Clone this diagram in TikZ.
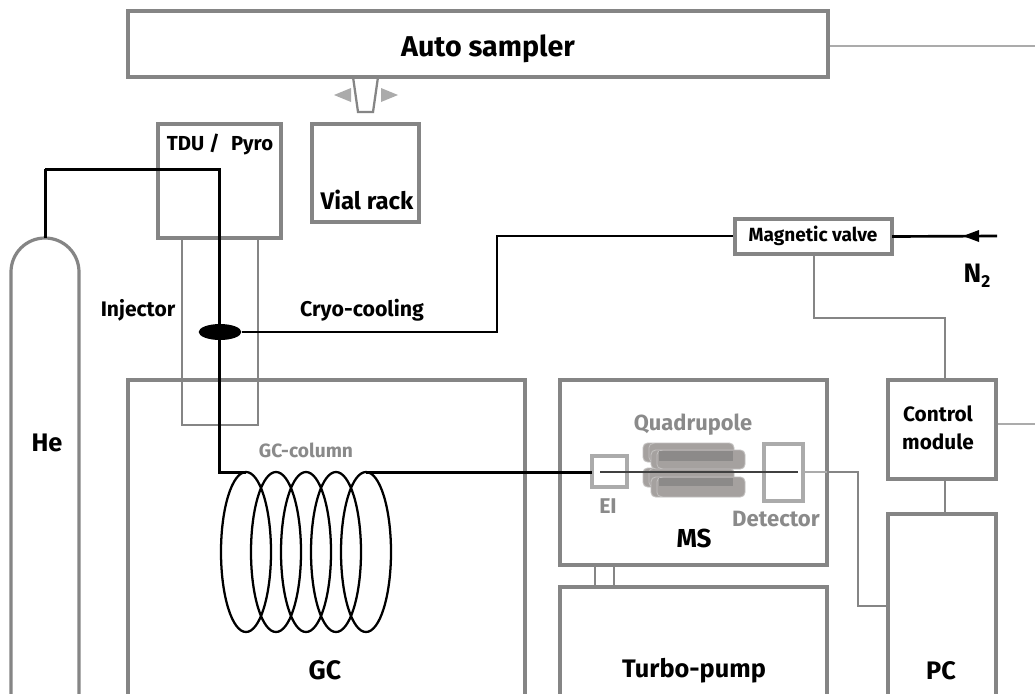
\documentclass[tikz,border=0pt]{standalone}
\usepackage{fontspec}
\setmainfont{Fira Sans}
\usetikzlibrary{arrows.meta,calc,shapes.geometric}
\definecolor{boxgray}{HTML}{858585}
\definecolor{lightline}{HTML}{ABABAB}
\definecolor{lab}{HTML}{8A8A8A}
\definecolor{rod}{HTML}{A5A19F}
\definecolor{rodin}{HTML}{8C8A89}
\definecolor{rodedge}{HTML}{C2C0BF}
\newcommand{\fsz}[1]{\bfseries\fontsize{#1}{#1}\selectfont}
\tikzset{
 x=0.75pt,y=-0.75pt,
 boxs/.style={draw=boxgray,line width=2.4pt,fill=white},
 txt/.style={text=black,inner sep=0pt},
 graylab/.style={text=lab,inner sep=0pt},
 wire/.style={draw=black,line width=2.25pt},
 thinwire/.style={draw=black,line width=2pt},
 gwire/.style={draw=boxgray,line width=1.7pt},
 lwire/.style={draw=lightline,line width=1.7pt},
 coil/.style={draw=black,line width=1.7pt},
}
\newcommand{\rect}[5]{\node[boxs,minimum width=#4*0.75pt,minimum height=#5*0.75pt,inner sep=0pt,anchor=north west,outer sep=0pt] (#1) at (#2,#3) {};}
% x y w h : one quadrupole rod
\newcommand{\rodshape}[4]{%
 \draw[draw=rodedge,line width=.7pt,fill=rod,rounded corners=3.5pt] (#1,#2) rectangle ++(#3,#4);
 \draw[draw=rodedge,line width=.6pt,rounded corners=3pt] (#1+9,#2+.5) -- (#1+6,#2+.5) -- (#1+6,#2+#4-.5) -- (#1+9,#2+#4-.5);
}
\begin{document}
\begin{tikzpicture}
\useasboundingbox (0,0) rectangle (1035,693);
\fill[white] (0,0) rectangle (1035,693);
% auxiliary coordinates
\coordinate (asr) at (1035,46);
\coordinate (cmr) at (1035,424);
\coordinate (heA) at (45,169);
\coordinate (heB) at (219,169);
\coordinate (colA) at (219,472);
\coordinate (colB) at (592,472);
\coordinate (cryA) at (497,332);
\coordinate (cryB) at (497,236);
\coordinate (mvA) at (814,318);
\coordinate (mvB) at (945,318);
\coordinate (detA) at (858,472);
\coordinate (detB) at (858,606);
\coordinate (nin) at (997,236);
% grey outer lines
\draw[lwire] (828,46) -- (asr);
\draw[lwire] (996,424) -- (cmr);
% He bottle
\draw[boxs,fill=white] (11,695) -- (11,272) arc[start angle=180,end angle=0,x radius=34,y radius=-34] -- (79,695);
\node[txt,font=\fsz{19}] (he) at (47,443) {He};
% Auto sampler
\rect{auto}{128}{11}{700}{66}
\node[txt,font=\fsz{21.5}] (autot) at (488,49) {Auto sampler};
% gripper
\coordinate (gA) at (353,77);
\coordinate (gB) at (358,112);
\coordinate (gC) at (373,112);
\coordinate (gD) at (378,77);
\draw[draw=boxgray,line width=1.7pt] (gA) -- (gB) -- (gC) -- (gD);
\coordinate (arL) at (334,95);
\coordinate (arR) at (398,95);
\fill[lightline] (arL) -- (351,88) -- (351,102) -- cycle;
\fill[lightline] (arR) -- (381,88) -- (381,102) -- cycle;
% TDU, Vial
\rect{tdu}{158}{124}{123}{114}
\node[txt,font=\fsz{15.2}] (tdut) at (220,144) {TDU /\,\, Pyro};
\rect{vial}{312}{124}{107}{98}
\node[txt,font=\fsz{18}] (vialt) at (367,200) {Vial rack};
% GC
\rect{gc}{128}{380}{397}{316}
% Injector
\draw[boxgray,line width=2pt] (182,238) -- (182,425) -- (258,425) -- (258,238);
\draw[boxgray,line width=2.4pt] (128,380) -- (525,380);
\node[txt,font=\fsz{15.8}] (inj) at (138,310) {Injector};
\node[txt,font=\fsz{16}] (cryo) at (362,310) {Cryo-cooling};
\node[graylab,font=\fsz{14.4}] (gccol) at (306,450) {GC-column};
\node[txt,font=\fsz{20}] (gct) at (325,670) {GC};
% MS
\rect{ms}{560}{380}{267}{185}
\rect{pump}{560}{587}{267}{109}
\draw[gwire] (595,565) -- (595,587) (614,565) -- (614,587);
\node[txt,font=\fsz{19}] (tp) at (694,671) {Turbo-pump};
\node[txt,font=\fsz{19.5}] (mst) at (694,538) {MS};
\node[graylab,font=\fsz{16.4}] (qt) at (693,425) {Quadrupole};
\node[graylab,font=\fsz{16}] (eit) at (608,506) {EI};
\node[graylab,font=\fsz{16.6}] (dt) at (776,519) {Detector};
% Quadrupole rods
\rodshape{643}{443}{91}{19}
\rodshape{643}{468}{91}{19}
\rodshape{651}{450}{94}{19}
\rodshape{651}{477}{94}{20}
\fill[rodin] (659,451) rectangle (733,461);
\fill[rodin] (659,478) rectangle (733,486);
% EI and detector
\draw[lightline,line width=2.3pt] (592,456) rectangle (627,487);
\draw[lightline,line width=2.3pt] (764,444) rectangle (803,501);
% column wire
\draw[lwire] (803,472) -- (838,472);
\draw[gwire] (827,472) -- (detA) -- (detB) -- (888,606);
\draw[wire] (heA) -- (heB) -- (colA) -- (246,472);
\draw[wire] (366,472) -- (colB);
\draw[draw=black!75,line width=1.3pt] (600,472) -- (798,472);
% Coil
\foreach \cx in {246,276,306,336,366}{
 \draw[coil] (\cx,552) ellipse[x radius=25,y radius=80];
}
\draw[wire] (45,238) -- (heA);
% Ellipse and cryo
\node[draw=none,fill=black,ellipse,minimum width=32pt,minimum height=12pt,inner sep=0pt] (cryoel) at (220,332) {};
\draw[thinwire] (cryoel) -- (cryA) -- (cryB) -- (735,236);
% Magnetic valve
\rect{mv}{735}{219}{157}{35}
\node[txt,font=\fsz{14.3}] (mvt) at (813,236) {Magnetic valve};
\draw[thinwire] (mv.east) -- (nin);
\fill[black] (963,236) -- (979,230) -- (979,242) -- cycle;
\node[txt,font=\fsz{20}] (n2) at (977,276) {N\raisebox{-.35ex}{\fontsize{13}{13}\selectfont 2}};
% Control and PC
\rect{cm}{888}{380}{108}{99}
\node[txt,align=center,font=\fsz{15.6},execute at begin node=\setlength{\baselineskip}{21pt}] (cmt) at (938,428) {Control\\module};
\rect{pc}{888}{514}{108}{182}
\node[txt,font=\fsz{19}] (pct) at (941,671) {PC};
\draw[gwire] (814,254) -- (mvA) -- (mvB) -- (945,380);
\draw[gwire] (945,479) -- (945,514);
\end{tikzpicture}
\end{document}
